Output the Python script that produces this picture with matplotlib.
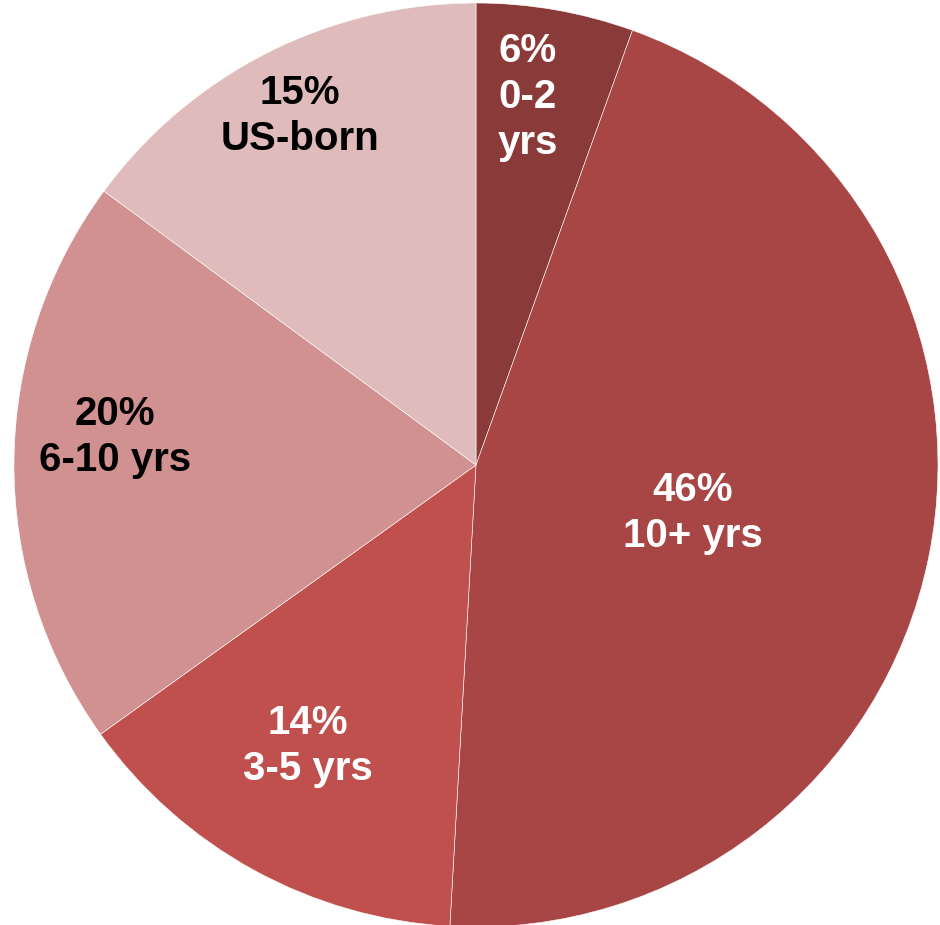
import matplotlib.pyplot as plt

# Share of group by years in the US (clockwise from 12 o'clock)
categories = ['0-2\nyrs', '10+ yrs', '3-5 yrs', '6-10 yrs', 'US-born']
shares = [5.5, 45.4, 14.2, 20.0, 14.9]
pct_labels = ['6%', '46%', '14%', '20%', '15%']

colors = ['#8B3A3A', '#A84646', '#C0504D', '#D19190', '#E0BBBB']
text_colors = ['white', 'white', 'white', 'black', 'black']
# label centres in pixels of the 940x925 canvas
label_px = [(528, 97), (693, 513), (308, 746), (115, 437), (300, 116)]

fig = plt.figure(figsize=(9.4, 9.25), dpi=100)
ax = fig.add_axes([0, 0, 1, 1])

wedges, _ = ax.pie(shares, colors=colors, startangle=90, counterclock=False,
                   radius=1.0, center=(0, 0),
                   wedgeprops=dict(edgecolor='white', linewidth=0.4))

# center at (476, 465) px, radius 462 px
r_px = 462
cx, cy = 476, 465
for pct, cat, tc, (px, py) in zip(pct_labels, categories, text_colors, label_px):
    ax.text((px - cx) / r_px, (cy - py) / r_px, f'{pct}\n{cat}',
            ha='center', va='center', color=tc, fontsize=29,
            fontweight='bold', family='Liberation Sans', linespacing=1.27)

ax.set_xlim(-cx / r_px, (940 - cx) / r_px)
ax.set_ylim(-(925 - cy) / r_px, cy / r_px)
ax.set_aspect('equal')
ax.axis('off')

fig.savefig('out.png', dpi=100, facecolor='white')
